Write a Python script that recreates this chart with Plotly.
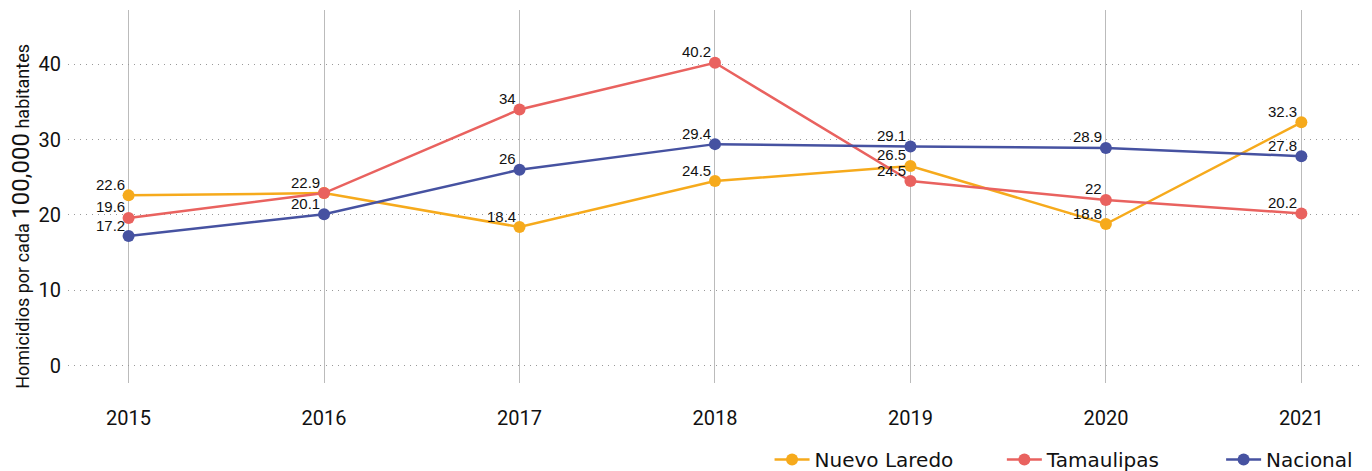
import plotly.graph_objects as go

years = ["2015", "2016", "2017", "2018", "2019", "2020", "2021"]
nuevo_laredo = [22.6, 22.9, 18.4, 24.5, 26.5, 18.8, 32.3]
tamaulipas = [19.6, 22.9, 34, 40.2, 24.5, 22, 20.2]
nacional = [17.2, 20.1, 26, 29.4, 29.1, 28.9, 27.8]

series = [
    ("Nuevo Laredo", nuevo_laredo, "#F6AA1C", "legend", 0.543),
    ("Tamaulipas", tamaulipas, "#E9625F", "legend2", 0.7228),
    ("Nacional", nacional, "#4652A1", "legend3", 0.8925),
]

fig = go.Figure()
for name, vals, col, leg, lx in series:
    fig.add_trace(go.Scatter(
        x=years, y=vals, name=name, mode="lines+markers",
        line=dict(color=col, width=2.5),
        marker=dict(color=col, size=12),
        cliponaxis=False, legend=leg,
    ))
    fig.update_layout({leg: dict(orientation="h", xanchor="left", x=lx, yanchor="middle", y=-0.205,
                                 font=dict(size=20, family="DejaVu Sans", color="#111"),
                                 itemwidth=35, bgcolor="rgba(0,0,0,0)")})
    for i, v in enumerate(vals):
        # 2016 Tamaulipas label sits under the Nuevo Laredo one
        if name == "Tamaulipas" and i == 1:
            continue
        # category index (numeric-looking year strings are read as indices)
        fig.add_annotation(
            x=i, y=v, text=str(v), showarrow=False,
            xanchor="right", yanchor="middle", xshift=-2, yshift=11,
            font=dict(family="Liberation Sans, Arial", size=15, color="#111"),
        )

# page body has an 8px margin, so the figure is drawn 8px smaller
fig.update_layout(
    width=1364, height=463,
    margin=dict(l=60, r=12, t=2, b=88, autoexpand=False),
    plot_bgcolor="white", paper_bgcolor="white",
    font=dict(family="Roboto", color="#111"),
    showlegend=True,
)
fig.add_annotation(
    text="Homicidios por cada <span style='font-size:24px'>100,000</span> habitantes",
    xref="paper", yref="paper", x=-0.0364, y=0.448, xanchor="center", yanchor="middle",
    textangle=-90, showarrow=False, font=dict(size=18, color="#111"),
)
fig.update_xaxes(
    type="category", range=[-0.31, 6.3],
    showgrid=True, gridcolor="#bbbbbb", gridwidth=1,
    tickfont=dict(size=20), ticks="", ticklabelstandoff=21,
    zeroline=False, showline=False, automargin=False,
)
fig.update_yaxes(
    range=[-2.3, 47.2], tickvals=[0, 10, 20, 30, 40],
    showgrid=True, gridcolor="#999999", griddash="1px,5px", gridwidth=1,
    tickfont=dict(size=20), zeroline=False, showline=False, ticks="",
    ticklabelstandoff=6, automargin=False,
)

fig.write_html("out.html")
